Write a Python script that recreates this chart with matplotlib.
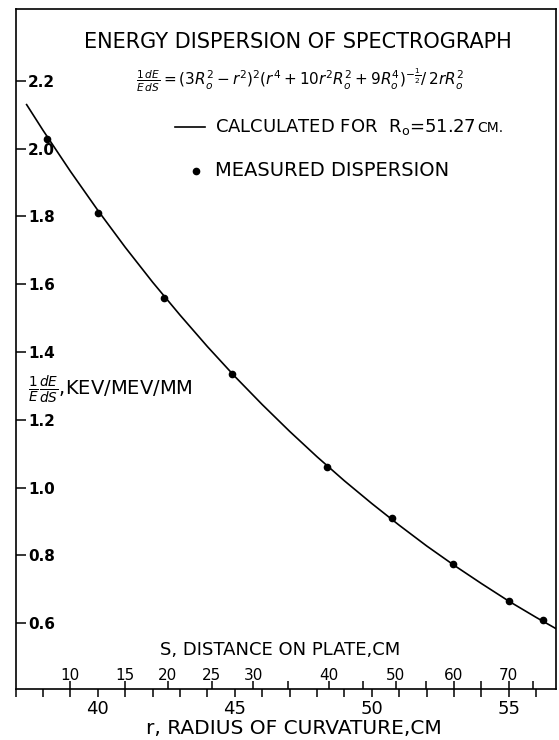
import numpy as np
import matplotlib
matplotlib.use("Agg")
from matplotlib import pyplot as plt
from matplotlib.lines import Line2D

# calculated curve (r in cm, 1/E dE/dS in keV/MeV/mm)
curve_r = [37.4, 38, 39, 40, 41, 42, 43, 44, 45, 46, 47, 48, 49, 50,
           51, 52, 53, 54, 55, 56, 56.72]
curve_v = [2.13, 2.054, 1.933, 1.818, 1.709, 1.606, 1.509, 1.416, 1.328, 1.245,
           1.166, 1.091, 1.020, 0.953, 0.889, 0.828, 0.771, 0.717, 0.665, 0.617, 0.584]

# measured dispersion points
meas_r = [38.15, 40.0, 42.4, 44.9, 48.35, 50.75, 52.95, 55.0, 56.25]
meas_v = [2.03, 1.81, 1.56, 1.335, 1.06, 0.91, 0.775, 0.665, 0.61]

# S (distance on plate) scale, positions given in r
s_vals = [10, 15, 20, 25, 30, 35, 40, 45, 50, 55, 60, 65, 70, 75]
s_pos_r = [38.99, 40.99, 42.55, 44.15, 45.67, 46.95, 48.42, 49.69, 50.88,
           51.97, 52.99, 53.98, 54.99, 55.89]
s_labels = ['10', '15', '20', '25', '30', '', '40', '', '50', '', '60', '', '70', '']

r_major = [40, 45, 50, 55]
r_minor = list(range(37, 57))
y_ticks = [0.6, 0.8, 1.0, 1.2, 1.4, 1.6, 1.8, 2.0, 2.2]

fig = plt.figure(figsize=(5.59, 7.40), dpi=100)
ax = fig.add_axes([0.028, 0.0685, 0.9666, 0.9193])

ax.plot(curve_r, curve_v, color='black', lw=1.2)
ax.plot(meas_r, meas_v, 'o', color='black', ms=4.5)

ax.set_xlim(37, 56.72)
ax.set_ylim(0.405, 2.412)

# r axis: ticks below the line
ax.set_xticks(r_major)
ax.set_xticks(r_minor, minor=True)
ax.set_xticklabels([str(v) for v in r_major])
ax.tick_params(axis='x', which='both', direction='out', length=6, width=1.1,
               labelsize=13, pad=2, top=False)

# y axis: ticks and labels inside
ax.set_yticks(y_ticks)
ax.set_yticklabels(['%.1f' % v for v in y_ticks], fontweight='bold')
ax.tick_params(axis='y', direction='in', length=7, width=1.1, labelsize=11,
               pad=-9, right=False)
for lab in ax.get_yticklabels():
    lab.set_horizontalalignment('left')

for s in ax.spines.values():
    s.set_linewidth(1.2)

# S scale: ticks above the same line
ax2 = ax.twiny()
ax2.set_xlim(ax.get_xlim())
ax2.xaxis.set_ticks_position('bottom')
ax2.xaxis.set_label_position('bottom')
ax2.set_xticks(s_pos_r)
ax2.set_xticklabels(s_labels)
ax2.tick_params(axis='x', direction='in', length=6, width=1.1, labelsize=11,
                pad=-15)
for s in ax2.spines.values():
    s.set_visible(False)

W, H = 559.0, 740.0

fig.text(298 / W, 1 - 42 / H, 'ENERGY DISPERSION OF SPECTROGRAPH',
         ha='center', va='center', fontsize=15)
fig.text(300 / W, 1 - 80 / H,
         r'$\frac{1}{E}\frac{dE}{dS}=(3R_o^2-r^2)^2(r^4+10r^2R_o^2+9R_o^4)^{-\frac{1}{2}}/\,2rR_o^2$',
         ha='center', va='center', fontsize=11)

fig.add_artist(Line2D([175 / W, 205 / W], [1 - 127 / H, 1 - 127 / H],
                      color='black', lw=1.2))
calc = fig.text(215 / W, 1 - 127 / H, r'CALCULATED FOR  R$_\mathregular{o}$=51.27',
                ha='left', va='center', fontsize=13)
renderer = fig.canvas.get_renderer()
bb = calc.get_window_extent(renderer)
fig.text((bb.x1 + 2) / W, 1 - 128 / H, 'CM.', ha='left', va='center', fontsize=10)

fig.add_artist(Line2D([196 / W], [1 - 171 / H], marker='o', color='black', ms=4.5))
fig.text(215 / W, 1 - 171 / H, 'MEASURED DISPERSION',
         ha='left', va='center', fontsize=14)

fig.text(28 / W, 1 - 390 / H, r'$\frac{1}{E}\frac{dE}{dS}$,KEV/MEV/MM',
         ha='left', va='center', fontsize=14)

fig.text(280 / W, 1 - 650 / H, 'S, DISTANCE ON PLATE,CM',
         ha='center', va='center', fontsize=13)
fig.text(294 / W, 1 - 728 / H, 'r, RADIUS OF CURVATURE,CM',
         ha='center', va='center', fontsize=14.5)

fig.savefig('out.png', dpi=100)
